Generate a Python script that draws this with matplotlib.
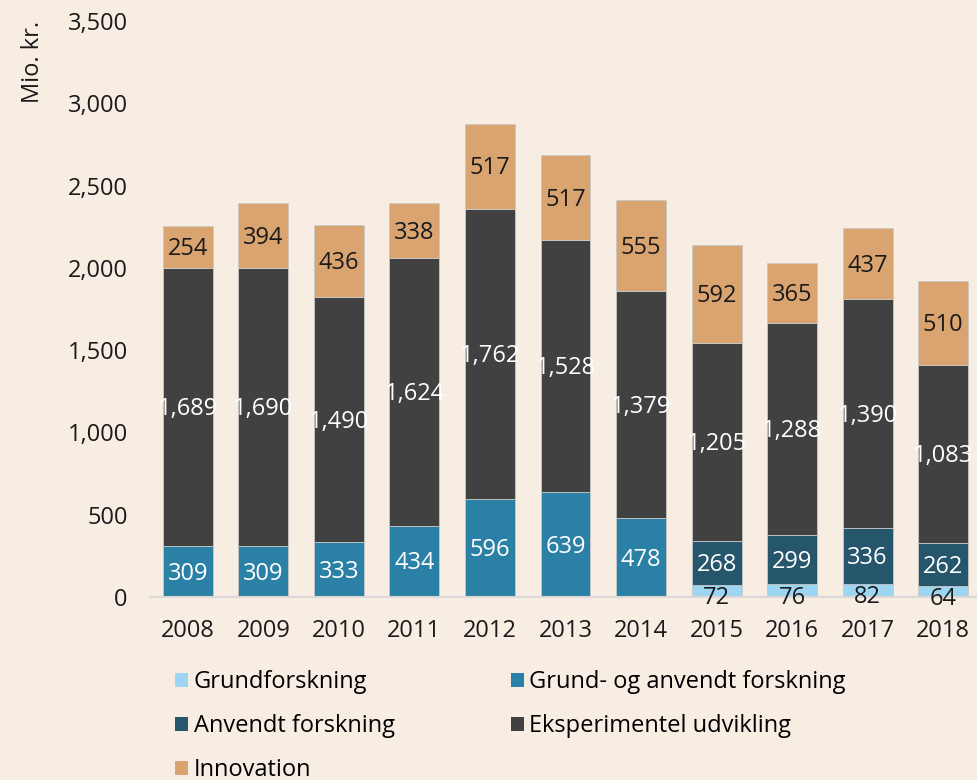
import matplotlib
matplotlib.use("Agg")
import matplotlib.pyplot as plt
import numpy as np
from matplotlib.patches import Patch

years = ["2008", "2009", "2010", "2011", "2012", "2013", "2014", "2015", "2016", "2017", "2018"]
grund = [0, 0, 0, 0, 0, 0, 0, 72, 76, 82, 64]
grund_anvendt = [309, 309, 333, 434, 596, 639, 478, 0, 0, 0, 0]
anvendt = [0, 0, 0, 0, 0, 0, 0, 268, 299, 336, 262]
eksperimentel = [1689, 1690, 1490, 1624, 1762, 1528, 1379, 1205, 1288, 1390, 1083]
innovation = [254, 394, 436, 338, 517, 517, 555, 592, 365, 437, 510]

series = [
    ("Grundforskning", grund, "#9DD6F1", "#1a1a1a"),
    ("Grund- og anvendt forskning", grund_anvendt, "#2B81A5", "white"),
    ("Anvendt forskning", anvendt, "#26566B", "white"),
    ("Eksperimentel udvikling", eksperimentel, "#414141", "white"),
    ("Innovation", innovation, "#D9A470", "#1a1a1a"),
]

bg = "#F8EDE3"
plt.rcParams['font.family'] = ['Open Sans', 'DejaVu Sans']
fig = plt.figure(figsize=(9.77, 7.8), dpi=100, facecolor=bg)
ax = fig.add_axes([150/977, 1-597/780, (981-150)/977, (597-21)/780])
ax.set_facecolor(bg)

x = np.arange(len(years))
bottom = np.zeros(len(years))
handles = []
for k, (name, vals, col, tcol) in enumerate(series):
    v = np.array(vals, dtype=float)
    ax.bar(x, v, 0.66, bottom=bottom, color=col, edgecolor="#c8c8c8", linewidth=0.6)
    dy = -5 if k == 0 else -1.5
    for i, val in enumerate(v):
        if val > 0:
            ax.annotate(f"{int(val):,}", (x[i], bottom[i] + val/2), xytext=(0, dy),
                        textcoords="offset points", ha="center", va="center",
                        color=tcol, fontsize=17)
    bottom += v
    handles.append(Patch(facecolor=col, edgecolor="none", label=name))

ax.set_xlim(-0.5, len(years) - 0.5)
ax.set_ylim(0, 3500)
ax.set_yticks(np.arange(0, 3501, 500))
ax.set_yticklabels([f"{t:,}" for t in range(0, 3501, 500)])
ax.set_xticks(x)
ax.set_xticklabels(years)
ax.tick_params(axis="both", length=0, labelsize=17, colors="#1a1a1a")
ax.tick_params(axis="y", pad=16)
ax.tick_params(axis="x", pad=16)
for s in ["top", "right", "left"]:
    ax.spines[s].set_visible(False)
ax.spines["bottom"].set_color("#d9d9d9")
ax.spines["bottom"].set_linewidth(1.5)

fig.text(33/977, 1-21/780, "Mio. kr.", rotation=90, ha="center", va="top", fontsize=17, color="#1a1a1a")

order = [handles[0], handles[2], handles[4], handles[1], handles[3]]
fig.legend(handles=order, loc="upper left", bbox_to_anchor=(175/977, 1-670/780), ncol=2,
           frameon=False, fontsize=17, handlelength=0.55, handleheight=0.55, handletextpad=0.25,
           columnspacing=4.9, labelspacing=0.85, borderaxespad=0, borderpad=0)

fig.savefig("out.png", dpi=100, facecolor=bg)
